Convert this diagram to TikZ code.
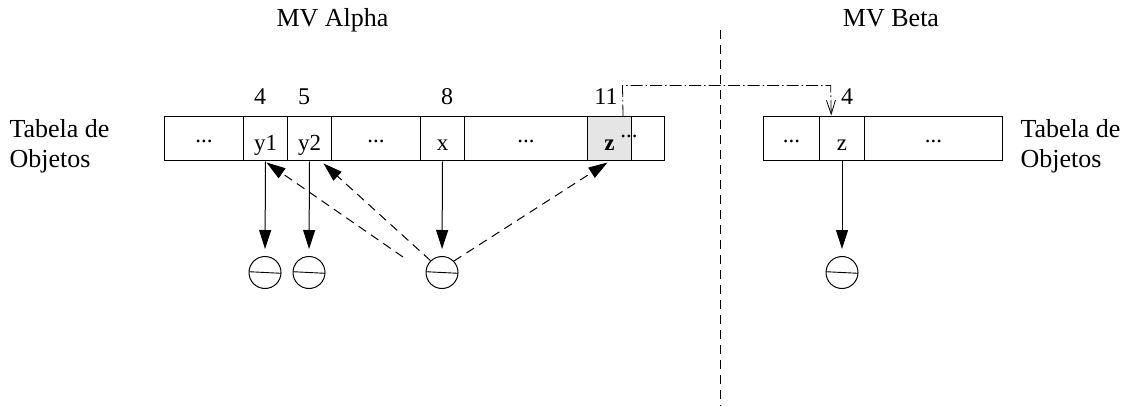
\documentclass[tikz,border=0pt]{standalone}
\usepackage{fontspec}
\setmainfont{Liberation Serif}
\usetikzlibrary{arrows.meta,calc}
\definecolor{zgray}{gray}{0.9}
\begin{document}
\begin{tikzpicture}[x=1pt,y=-1pt,line width=1pt,
  cell/.style={draw, minimum height=44pt, inner sep=0pt, anchor=west,
    text height=24pt, text depth=1pt, font=\fontsize{23}{27}\selectfont},
  dotcell/.style={cell, text height=10pt, text depth=2pt},
  numlbl/.style={anchor=base, inner sep=0pt, font=\fontsize{24}{28}\selectfont},
  title/.style={anchor=base, inner sep=0pt, font=\fontsize{26}{30}\selectfont},
  side/.style={anchor=north west, inner sep=0pt, align=left,
    font=\fontsize{26}{30}\selectfont},
  obj/.style={draw, circle, minimum size=32pt, inner sep=0pt},
  ref/.style={-{Triangle[length=19pt,width=12pt]}},
  dref/.style={ref, dash pattern=on 9pt off 6pt},
  sep/.style={dash pattern=on 9pt off 6pt},
  link/.style={line width=0.8pt, dash pattern=on 12pt off 3pt on 1.5pt off 3pt,
    -{Straight Barb[length=14pt,width=9pt,line width=0.8pt]}}
]
\useasboundingbox (0,0) rectangle (1131,406);

% titles
\node[title] (alpha) at (332.5,27) {MV Alpha};
\node[title] (beta) at (891,27) {MV Beta};

% side labels
\node[side] (lblL) at (9,119) {Tabela de\\Objetos};
\node[side] (lblR) at (1020,119) {Tabela de\\Objetos};

% left object table
\node[dotcell, minimum width=79pt] (c1) at (164,139) {...};
\node[cell, minimum width=44pt] (y1) at (243,139) {y1};
\node[cell, minimum width=44pt] (y2) at (287,139) {y2};
\node[dotcell, minimum width=89pt] (c4) at (331,139) {...};
\node[cell, minimum width=44pt] (x) at (420,139) {x};
\node[dotcell, minimum width=123pt] (c6) at (464,139) {...};
\node[cell, minimum width=44pt, fill=zgray, font=\fontsize{23}{27}\selectfont\bfseries] (z) at (587,139) {z};
\node[cell, minimum width=33pt] (c8) at (631,139) {};
\node[anchor=base, inner sep=0pt, font=\fontsize{23}{27}\selectfont] (zdots) at (629,138) {...};

% right object table
\node[dotcell, minimum width=56pt] (r1) at (763,139) {...};
\node[cell, minimum width=45pt] (rz) at (819,139) {z};
\node[dotcell, minimum width=138pt] (r3) at (864,139) {...};

% indices
\node[numlbl] (n4) at (260,105) {4};
\node[numlbl] (n5) at (304,105) {5};
\node[numlbl] (n8) at (447,105) {8};
\node[numlbl] (n11) at (606,105) {11};
\node[numlbl] (rn4) at (847,105) {4};

% objects
\node[obj] (o1) at (265,272.5) {};
\node[obj] (o2) at (309,272.5) {};
\node[obj] (o3) at (442,272.5) {};
\node[obj] (o4) at (842,272.5) {};
\foreach \o in {o1,o2,o3,o4}
  \draw[line width=0.9pt] ($(\o.center)+(-16,-0.8)$) -- ($(\o.center)+(16,0.8)$);

% references
\draw[ref, shorten >=7pt] (y1.south) -- (o1.north);
\draw[ref, shorten >=7pt] (y2.south) -- (o2.north);
\draw[ref, shorten >=7pt] (x.south) -- (o3.north);
\draw[ref, shorten >=7pt] (rz.south) -- (o4.north);

\coordinate (a0) at (403,257);
\draw[dref] (a0) -- ($(y1.south)+(1,1)$);
\draw[dref] (o3.134) -- ($(y2.south)+(14,2)$);
\draw[dref] (o3.44) -- ($(z.south)+(-2,1)$);

% remote reference link
\coordinate (d1) at (622.5,85.5);
\coordinate (d2) at (830.7,85.5);
\draw[link] ($(z.north)+(13.5,0)$) -- (d1) -- (d2) -- ($(rz.north)+(-10.8,-1)$);

% separator
\coordinate (s1) at (720,30);
\coordinate (s2) at (720,406);
\draw[sep] (s1) -- (s2);
\end{tikzpicture}
\end{document}
